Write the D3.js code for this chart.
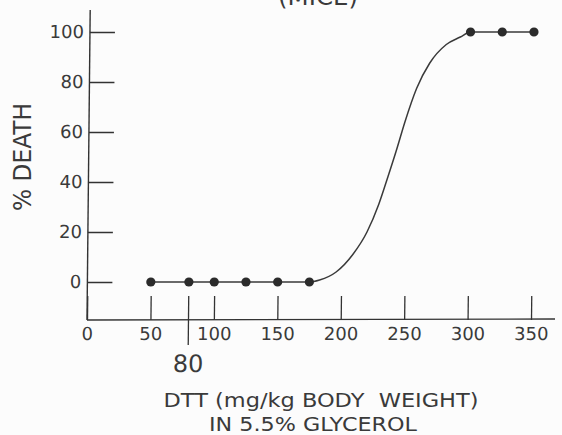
<!DOCTYPE html>
<html>
<head>
<meta charset="utf-8">
<script src="https://cdn.jsdelivr.net/npm/d3@7"></script>
<style>
  html, body { margin: 0; padding: 0; background: #fcfcfc; }
  svg { display: block; }
  text { font-family: "DejaVu Sans", sans-serif; fill: #3a3a3a; white-space: pre; }
</style>
</head>
<body>
<script>
// ---- data ----
const xTickValues = [0, 50, 100, 150, 200, 250, 300, 350];
const yTickValues = [0, 20, 40, 60, 80, 100];
const doseObserved = [50, 80, 100, 125, 150, 175, 300, 325, 350];
const deathObserved = [0, 0, 0, 0, 0, 0, 100, 100, 100];
// fitted curve as drawn between 175 and 300 mg/kg
const curveDose  = [175, 183, 196, 209, 220, 229, 236, 243, 249, 258, 268, 281, 292, 300];
const curveDeath = [0, 0.8, 4, 11, 20, 31, 42, 53.5, 64, 77.5, 87.5, 95, 98, 100];
const markedDose = 80;
const titleText = "(MICE)";
const yTitle = "% DEATH";
const xTitle1 = "DTT (mg/kg BODY  WEIGHT)";
const xTitle2 = "IN 5.5% GLYCEROL";

const W = 562, H = 435;
const svg = d3.select("body").append("svg").attr("width", W).attr("height", H);
svg.append("rect").attr("width", W).attr("height", H).attr("fill", "#fcfcfc");

const x = d3.scaleLinear().domain([0, 350]).range([87, 531]);
const y = d3.scaleLinear().domain([0, 100]).range([282, 32]);
const baseY = 320;

// slight skew of the hand-drawn figure (y axis leans right toward the top)
const k = 0.0103;
const g = svg.append("g")
  .attr("transform", `translate(${k * baseY},0) skewX(${-Math.atan(k) * 180 / Math.PI})`);

const ink = "#333";

// axes lines
g.append("line").attr("x1", x(0)).attr("x2", x(0)).attr("y1", baseY).attr("y2", 10)
  .attr("stroke", ink).attr("stroke-width", 1.4);
g.append("line").attr("x1", x(0)).attr("x2", 555).attr("y1", baseY).attr("y2", baseY - 1)
  .attr("stroke", ink).attr("stroke-width", 1.4);

// y axis ticks (inward) and labels
const yAxis = d3.axisLeft(y).tickValues(yTickValues).tickSizeInner(-25).tickSizeOuter(0).tickPadding(6);
const yg = g.append("g").attr("transform", `translate(${x(0)},0)`).call(yAxis);
yg.select(".domain").remove();
yg.selectAll(".tick line").attr("stroke", ink).attr("stroke-width", 1.3);
yg.selectAll(".tick text").attr("font-size", 18).attr("font-family", "DejaVu Sans").attr("fill", "#4a4a4a");

// x axis ticks (upward) and labels
const xAxis = d3.axisBottom(x).tickValues(xTickValues).tickSizeInner(-24).tickSizeOuter(0).tickPadding(7);
const xg = g.append("g").attr("transform", `translate(0,${baseY})`).call(xAxis);
xg.select(".domain").remove();
xg.selectAll(".tick line").attr("stroke", ink).attr("stroke-width", 1.3);
xg.selectAll(".tick text").attr("font-size", 18).attr("font-family", "DejaVu Sans").attr("fill", "#4a4a4a");

// marker at 80 mg/kg
g.append("line").attr("x1", x(markedDose)).attr("x2", x(markedDose))
  .attr("y1", baseY - 24).attr("y2", baseY + 25).attr("stroke", ink).attr("stroke-width", 1.3);
g.append("text").attr("x", x(markedDose)).attr("y", 372).attr("text-anchor", "middle")
  .attr("font-size", 24).text(markedDose);

// line through observations + fitted curve
const lowPts = doseObserved.map((d, i) => [d, deathObserved[i]]).filter(p => p[0] < 175);
const highPts = doseObserved.map((d, i) => [d, deathObserved[i]]).filter(p => p[0] > 300);
const midPts = curveDose.map((d, i) => [d, curveDeath[i]]);
const allPts = lowPts.concat(midPts, highPts);
const line = d3.line().x(d => x(d[0])).y(d => y(d[1])).curve(d3.curveMonotoneX);
g.append("path").datum(allPts).attr("d", line).attr("fill", "none")
  .attr("stroke", "#3a3a3a").attr("stroke-width", 1.5);

// dots
g.selectAll("circle.obs").data(doseObserved).enter().append("circle")
  .attr("class", "obs")
  .attr("cx", d => x(d)).attr("cy", (d, i) => y(deathObserved[i])).attr("r", 4.6)
  .attr("fill", "#2b2b2b");

// titles
svg.append("text").attr("x", 318).attr("y", 5).attr("text-anchor", "middle")
  .attr("font-size", 24).attr("textLength", 80).attr("lengthAdjust", "spacingAndGlyphs").text(titleText);
svg.append("text").attr("transform", "translate(31,157) rotate(-90)").attr("text-anchor", "middle")
  .attr("font-size", 24).attr("textLength", 108).attr("lengthAdjust", "spacingAndGlyphs").text(yTitle);
svg.append("text").attr("x", 321).attr("y", 407).attr("text-anchor", "middle")
  .attr("font-size", 20).attr("textLength", 315).attr("lengthAdjust", "spacingAndGlyphs").text(xTitle1);
svg.append("text").attr("x", 313).attr("y", 431).attr("text-anchor", "middle")
  .attr("font-size", 20).attr("textLength", 208).attr("lengthAdjust", "spacingAndGlyphs").text(xTitle2);
</script>
</body>
</html>
